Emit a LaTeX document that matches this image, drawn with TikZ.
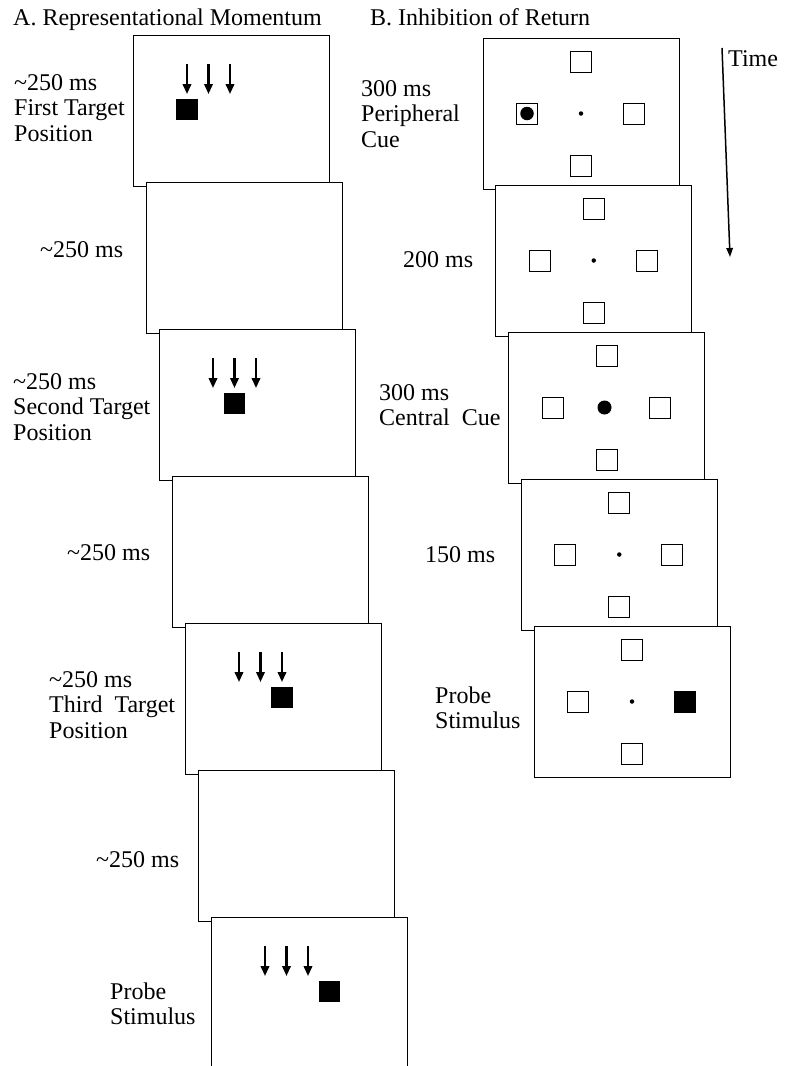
\documentclass[tikz,border=0pt]{standalone}
\usepackage{fontspec}
\setmainfont{Liberation Serif}
\usetikzlibrary{calc,arrows.meta}
\tikzset{
  scr/.style={draw=black, fill=white, line width=0.9pt, minimum width=196pt, minimum height=151pt, inner sep=0pt, outer sep=0pt, anchor=north west},
  lbl/.style={anchor=west, align=left, inner sep=0pt, font=\fontsize{24}{25.5}\selectfont},
  ttl/.style={anchor=base west, inner sep=0pt, font=\fontsize{24}{26}\selectfont},
  mvarrow/.style={line width=2.1pt, -{Triangle[width=8.5pt,length=10pt]}},
  target/.style={fill=black, minimum size=21.5pt, inner sep=0pt},
  placeholder/.style={draw=black, line width=0.9pt, fill=white, minimum size=21pt, inner sep=0pt},
  fixdot/.style={circle, fill=black, minimum size=4.5pt, inner sep=0pt},
  cuedot/.style={circle, fill=black, minimum size=13.5pt, inner sep=0pt},
  timearrow/.style={line width=1.5pt, -{Triangle[width=6.5pt,length=9pt]}}
}
\begin{document}
\begin{tikzpicture}[x=1pt,y=-1pt]
\useasboundingbox (0,0) rectangle (785,1066);
\clip (0,0) rectangle (785,1066);
\fill[white] (0,0) rectangle (785,1066);

% titles
\node[ttl] (titleA) at (13,25) {A. Representational Momentum};
\node[ttl] (titleB) at (370,25) {B. Inhibition of Return};

% ---------- Panel A ----------
\foreach \i in {0,...,6}{
  \node[scr] (a\i) at ({133+13*\i},{35+147*\i}) {};
}
\foreach \k/\f in {0/0,1/2,2/4,3/6}{
  \foreach \dx in {54,75.5,97}{
    \draw[mvarrow] ($(a\f.north west)+(\dx,29)$) -- ++(0,30);
  }
  \node[target] (t\k) at ($(a\f.north west)+({54+21.5*\k},74.5)$) {};
}

\node[lbl] (la0) at (14,108) {\textasciitilde250 ms\\First Target\\Position};
\node[lbl] (la1) at (40,250) {\textasciitilde250 ms};
\node[lbl] (la2) at (13,407) {\textasciitilde250 ms\\Second Target\\Position};
\node[lbl] (la3) at (67,553) {\textasciitilde250 ms};
\node[lbl] (la4) at (49,705) {\textasciitilde250 ms\\Third\ \ Target\\Position};
\node[lbl] (la5) at (96,860) {\textasciitilde250 ms};
\node[lbl] (la6) at (110,1004) {Probe\\Stimulus};

% ---------- Panel B ----------
\foreach \i in {0,...,4}{
  \node[scr] (b\i) at ({483+12.75*\i},{38+147*\i}) {};
  \node[placeholder] (bt\i) at ($(b\i.center)+(0,-52)$) {};
  \node[placeholder] (bb\i) at ($(b\i.center)+(0,52.5)$) {};
  \node[placeholder] (bl\i) at ($(b\i.center)+(-54,0)$) {};
  \node[placeholder] (br\i) at ($(b\i.center)+(53,0)$) {};
}
\foreach \i in {0,1,3,4}{
  \node[fixdot] (bf\i) at (b\i.center) {};
}
\node[cuedot] (pcue) at (bl0.center) {};
\node[cuedot, minimum size=14pt] (ccue) at ($(b2.center)+(-2,0)$) {};
\node[target, minimum size=21pt] (probe) at (br4.center) {};

\node[lbl] (lb0) at (361,114) {300 ms\\Peripheral\\Cue};
\node[lbl] (lb1) at (403,260) {200 ms};
\node[lbl] (lb2) at (379,405) {300 ms\\Central\ \ Cue};
\node[lbl] (lb3) at (425,555) {150 ms};
\node[lbl] (lb4) at (435,708) {Probe\\Stimulus};

% time arrow
\coordinate (tstart) at (722,48);
\coordinate (tend) at (730,257);
\draw[timearrow] (tstart) -- (tend);
\node[ttl] (time) at (728,66) {Time};
\end{tikzpicture}
\end{document}
